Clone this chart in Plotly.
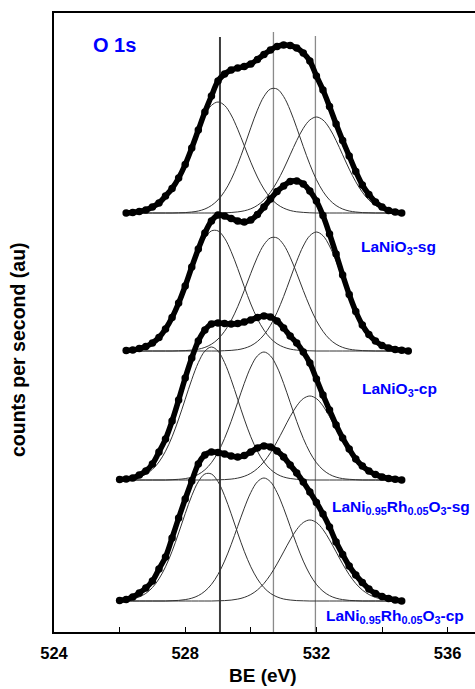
import plotly.graph_objects as go

# Binding-energy grid (eV), 0.2 eV step
BE = [526.0, 526.2, 526.4, 526.6, 526.8, 527.0, 527.2, 527.4, 527.6, 527.8,
      528.0, 528.2, 528.4, 528.6, 528.8, 529.0, 529.2, 529.4, 529.6, 529.8,
      530.0, 530.2, 530.4, 530.6, 530.8, 531.0, 531.2, 531.4, 531.6, 531.8,
      532.0, 532.2, 532.4, 532.6, 532.8, 533.0, 533.2, 533.4, 533.6, 533.8,
      534.0, 534.2, 534.4, 534.6, 534.8]

N = None
# Vertical offsets of the stacked spectra (au)
OFFSETS = [419, 281, 152, 31]

# Spectrum 1 (top)
S1_DATA = [N, 0, 0.5, 1.5, 3, 6, 10, 17, 24.5, 35, 48.5, 65, 83, 101, 117, 132, 139, 143, 145, 146.5,
           149, 153.5, 158.5, 163, 166.5, 168, 167.5, 165, 160, 152, 137, 123, 106.5, 89, 72.5, 57,
           41.5, 28, 18.5, 11, 6, 2.5, 1, 0, N]
S1_C1 = [N, 0.2, 0.6, 1.2, 2.5, 4.9, 8.8, 15.0, 24.0, 36.0, 50.8, 67.3, 83.8, 98.0, 107.6, 111.0, 107.6,
         98.0, 83.8, 67.3, 50.8, 36.0, 24.0, 15.0, 8.8, 4.9, 2.5, 1.2, 0.6, 0.2, 0, 0, 0, 0, 0, 0, 0,
         0, 0, 0, 0, 0, 0, 0, N]
S1_C2 = [N, 0, 0, 0, 0, 0, 0, 0, 0, 0.2, 0.4, 1.0, 2.0, 4.0, 7.5, 13.1, 21.6, 33.4, 48.6, 66.4, 85.2,
         102.8, 116.5, 124.0, 124.0, 116.5, 102.8, 85.2, 66.4, 48.6, 33.4, 21.6, 13.1, 7.5, 4.0, 2.0,
         1.0, 0.4, 0.2, 0, 0, 0, 0, 0, N]
S1_C3 = [N, 0, 0, 0, 0, 0, 0, 0, 0, 0, 0, 0, 0, 0, 0, 0, 0.2, 0.5, 1.1, 2.2, 4.2, 7.6, 13.0, 20.8,
         31.2, 43.9, 58.2, 72.5, 84.7, 93.0, 96.0, 93.0, 84.7, 72.5, 58.2, 43.9, 31.2, 20.8, 13.0,
         7.6, 4.2, 2.2, 1.1, 0.5, N]

# Spectrum 2
S2_DATA = [N, 0.5, 1, 2.5, 4.5, 8, 13.5, 22, 33.5, 48, 65, 84, 102, 118, 130, 136, 135, 132.5, 130,
           129, 131, 136.5, 144, 152, 159.5, 165, 169.5, 170, 167, 160, 150, 135.5, 117, 97, 76,
           56.5, 39.5, 26, 16.5, 10, 5.5, 3, 1.5, 0.7, 0]
S2_C1 = [N, 0.4, 0.9, 1.9, 3.9, 7.2, 12.7, 20.9, 32.3, 47.0, 64.3, 82.5, 99.5, 112.8, 120.1, 120.1,
         112.8, 99.5, 82.5, 64.3, 47.0, 32.3, 20.9, 12.7, 7.2, 3.9, 1.9, 0.9, 0.4, 0.2, 0, 0, 0, 0, 0,
         0, 0, 0, 0, 0, 0, 0, 0, 0, 0]
S2_C2 = [N, 0, 0, 0, 0, 0, 0, 0, 0, 0.2, 0.4, 0.9, 1.8, 3.6, 6.8, 11.9, 19.7, 30.4, 44.3, 60.5, 77.7,
         93.8, 106.3, 113.1, 113.1, 106.3, 93.8, 77.7, 60.5, 44.3, 30.4, 19.7, 11.9, 6.8, 3.6, 1.8,
         0.9, 0.4, 0.2, 0, 0, 0, 0, 0, 0]
S2_C3 = [N, 0, 0, 0, 0, 0, 0, 0, 0, 0, 0, 0, 0, 0, 0, 0, 0.3, 0.6, 1.3, 2.7, 5.2, 9.5, 16.1, 25.7,
         38.6, 54.5, 72.2, 89.8, 105.0, 115.3, 119.0, 115.3, 105.0, 89.8, 72.2, 54.5, 38.6, 25.7,
         16.1, 9.5, 5.2, 2.7, 1.3, 0.6, 0.3]

# Spectrum 3
S3_DATA = [0.5, 1, 2, 5, 9, 16, 28, 41, 59, 80, 102, 122, 139, 150, 156, 157, 156.5, 156, 156.5, 158,
           160, 162.5, 164, 163, 159, 152, 144, 137, 128, 117, 101, 85, 70, 55, 42, 31, 21, 14, 9,
           5.5, 3, 1.5, 0.7, 0, N]
S3_C1 = [0.3, 0.7, 1.5, 3.0, 5.8, 10.6, 18.0, 28.8, 43.2, 60.9, 80.7, 100.4, 117.4, 128.9, 133.0,
         128.9, 117.4, 100.4, 80.7, 60.9, 43.2, 28.8, 18.0, 10.6, 5.8, 3.0, 1.5, 0.7, 0.3, 0, 0, 0,
         0, 0, 0, 0, 0, 0, 0, 0, 0, 0, 0, 0, N]
S3_C2 = [0, 0, 0, 0, 0, 0, 0, 0, 0.3, 0.7, 1.4, 2.9, 5.6, 10.2, 17.3, 27.7, 41.6, 58.6, 77.6, 96.6,
         113.0, 124.1, 128.0, 124.1, 113.0, 96.6, 77.6, 58.6, 41.6, 27.7, 17.3, 10.2, 5.6, 2.9, 1.4,
         0.7, 0.3, 0, 0, 0, 0, 0, 0, 0, N]
S3_C3 = [0, 0, 0, 0, 0, 0, 0, 0, 0, 0, 0, 0, 0, 0, 0, 0.2, 0.4, 0.9, 1.9, 3.7, 6.7, 11.4, 18.2, 27.3,
         38.5, 50.9, 63.4, 74.1, 81.4, 84.0, 81.4, 74.1, 63.4, 50.9, 38.5, 27.3, 18.2, 11.4, 6.7,
         3.7, 1.9, 0.9, 0.4, 0.2, N]

# Spectrum 4 (bottom)
S4_DATA = [0.5, 1.5, 4, 8, 13, 20, 32, 44, 63, 83, 102, 120, 137, 146, 149, 148.5, 147, 145, 144,
           145.5, 149, 153, 155, 154, 150, 144, 136, 128, 119, 109, 98.5, 87, 74, 59, 46.5, 35, 26,
           18.5, 12, 7.5, 4.5, 2.5, 1, 0, N]
S4_C1 = [0.4, 1.0, 2.0, 4.1, 7.6, 13.4, 22.1, 34.2, 49.7, 68.0, 87.3, 105.3, 119.3, 127.0, 127.0,
         119.3, 105.3, 87.3, 68.0, 49.7, 34.2, 22.1, 13.4, 7.6, 4.1, 2.0, 1.0, 0.4, 0.2, 0, 0, 0, 0,
         0, 0, 0, 0, 0, 0, 0, 0, 0, 0, 0, N]
S4_C2 = [0, 0, 0, 0, 0, 0, 0, 0, 0.3, 0.6, 1.4, 2.8, 5.4, 9.8, 16.6, 26.6, 39.9, 56.3, 74.6, 92.8,
         108.5, 119.2, 123.0, 119.2, 108.5, 92.8, 74.6, 56.3, 39.9, 26.6, 16.6, 9.8, 5.4, 2.8, 1.4,
         0.6, 0.3, 0, 0, 0, 0, 0, 0, 0, N]
S4_C3 = [0, 0, 0, 0, 0, 0, 0, 0, 0, 0, 0, 0, 0, 0, 0, 0.2, 0.4, 0.9, 1.9, 3.6, 6.5, 11.0, 17.5, 26.3,
         37.1, 49.1, 61.1, 71.5, 78.5, 81.0, 78.5, 71.5, 61.1, 49.1, 37.1, 26.3, 17.5, 11.0, 6.5,
         3.6, 1.9, 0.9, 0.4, 0.2, N]

SPECTRA = [S1_DATA, S2_DATA, S3_DATA, S4_DATA]
COMPONENTS = [[S1_C1, S1_C2, S1_C3], [S2_C1, S2_C2, S2_C3],
              [S3_C1, S3_C2, S3_C3], [S4_C1, S4_C2, S4_C3]]

# Reference vertical lines
VLINE_BE = [529.06, 530.69, 531.97]
VLINE_TOP = [595, 600, 596]

SAMPLE_LABELS = ["LaNiO<sub>3</sub>-sg", "LaNiO<sub>3</sub>-cp",
                 "LaNi<sub>0.95</sub>Rh<sub>0.05</sub>O<sub>3</sub>-sg",
                 "LaNi<sub>0.95</sub>Rh<sub>0.05</sub>O<sub>3</sub>-cp"]
LABEL_X = [533.30, 533.33, 532.42, 532.23]
LABEL_Y = [385, 243, 125, 16]

FONT = "Liberation Sans, Arial, sans-serif"
BLUE = "#0000ff"


def shift(vals, off):
    return [None if v is None else v + off for v in vals]


fig = go.Figure()

# vertical guide lines
vstyles = [dict(color="#3c3c3c", width=2), dict(color="#8a8a8a", width=1.3),
           dict(color="#8a8a8a", width=1.3)]
for be, top, st in zip(VLINE_BE, VLINE_TOP, vstyles):
    fig.add_trace(go.Scatter(x=[be, be], y=[0, top], mode="lines", line=st,
                             hoverinfo="skip", showlegend=False))

for comps, off in zip(COMPONENTS, OFFSETS):
    for c in comps:
        fig.add_trace(go.Scatter(x=BE, y=shift(c, off), mode="lines",
                                 line=dict(color="#333333", width=1, shape="spline"),
                                 showlegend=False))

for data, off in zip(SPECTRA, OFFSETS):
    fig.add_trace(go.Scatter(x=BE, y=shift(data, off), mode="lines+markers",
                             line=dict(color="black", width=5.5, shape="spline"),
                             marker=dict(color="black", size=7.5),
                             showlegend=False))

annotations = []
for txt, lx, ly in zip(SAMPLE_LABELS, LABEL_X, LABEL_Y):
    annotations.append(dict(x=lx, y=ly, xref="x", yref="y", text="<b>" + txt + "</b>",
                            showarrow=False, xanchor="left", yanchor="middle",
                            font=dict(family=FONT, size=15.5, color=BLUE)))
annotations.append(dict(x=525.12, y=587, xref="x", yref="y", text="<b>O 1s</b>",
                        showarrow=False, xanchor="left", yanchor="middle",
                        font=dict(family=FONT, size=20, color=BLUE)))
annotations.append(dict(x=0.497, y=-0.071, xref="paper", yref="paper", text="<b>BE (eV)</b>",
                        showarrow=False, xanchor="center", yanchor="middle",
                        font=dict(family=FONT, size=19, color="black")))
annotations.append(dict(x=-0.0855, y=0.4556, xref="paper", yref="paper",
                        text="<b>counts per second (au)</b>", textangle=-90,
                        showarrow=False, xanchor="center", yanchor="middle",
                        font=dict(family=FONT, size=19.5, color="black")))

fig.update_layout(
    width=475, height=689,
    margin=dict(l=54, r=0, t=13, b=57),
    paper_bgcolor="white", plot_bgcolor="white",
    annotations=annotations,
    xaxis=dict(range=[524, 536.835], showgrid=False, zeroline=False,
               showline=True, linecolor="black", linewidth=1.5, mirror=True,
               ticks="inside", ticklen=5, tickcolor="black", tickwidth=1.2,
               tick0=524, dtick=4, ticklabelstandoff=5,
               minor=dict(dtick=2, ticks="inside", ticklen=5, tickcolor="black", tickwidth=1.2),
               tickfont=dict(family=FONT, size=16.5, color="black", weight="bold")),
    yaxis=dict(range=[0, 619], showgrid=False, zeroline=False, showline=True,
               linecolor="black", linewidth=1.5, showticklabels=False, ticks=""),
)

fig.write_html("out.html")
